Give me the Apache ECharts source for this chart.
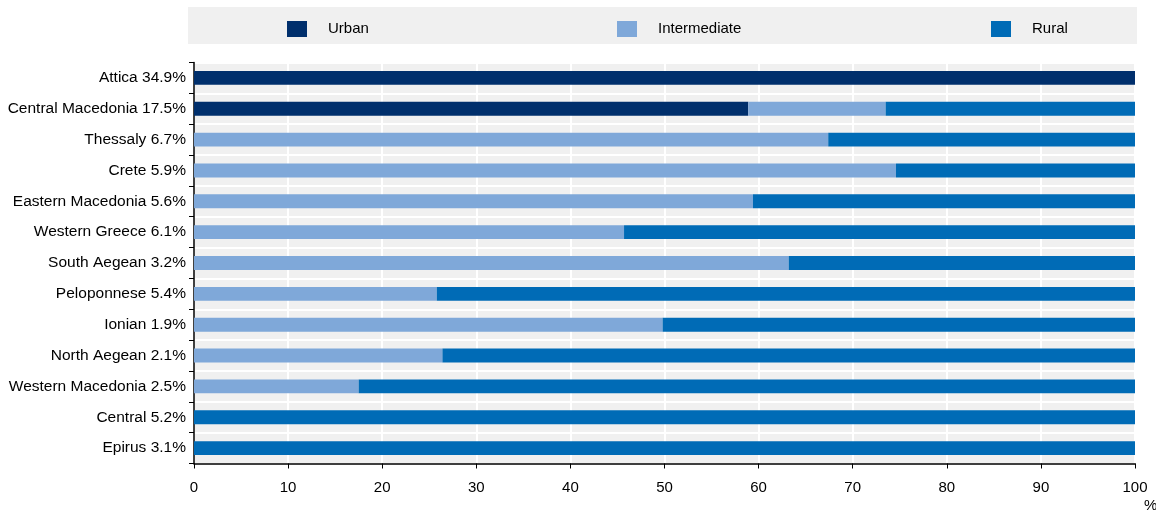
<!DOCTYPE html>
<html>
<head>
<meta charset="utf-8">
<script src="https://cdn.jsdelivr.net/npm/echarts@6/dist/echarts.min.js"></script>
<style>
  html, body { margin: 0; padding: 0; background: #fff; }
  #chart { width: 1156px; height: 515px; }
</style>
</head>
<body>
<div id="chart"></div>
<script>
const regions = [
  'Attica 34.9%', 'Central Macedonia 17.5%', 'Thessaly 6.7%', 'Crete 5.9%',
  'Eastern Macedonia 5.6%', 'Western Greece 6.1%', 'South Aegean 3.2%',
  'Peloponnese 5.4%', 'Ionian 1.9%', 'North Aegean 2.1%',
  'Western Macedonia 2.5%', 'Central 5.2%', 'Epirus 3.1%'
]
const urban = [100, 58.9, 0, 0, 0, 0, 0, 0, 0, 0, 0, 0, 0]
const intermediate = [0, 14.6, 67.4, 74.6, 59.4, 45.7, 63.2, 25.8, 49.8, 26.4, 17.5, 0, 0]
const rural = [0, 26.5, 32.6, 25.4, 40.6, 54.3, 36.8, 74.2, 50.2, 73.6, 82.5, 100, 100]

const FONT = "'Liberation Sans Narrow', 'Liberation Sans', Arial, sans-serif"
const COLORS = { Urban: '#002f6c', Intermediate: '#7fa8d9', Rural: '#006bb6' }

function legendItem(name, left) {
  return {
    data: [name],
    left: left,
    top: 16,
    itemWidth: 20,
    itemHeight: 16,
    itemGap: 0,
    icon: 'rect',
    textStyle: { fontFamily: FONT, fontSize: 15, color: '#000', padding: [0, 0, 0, 16] },
    selectedMode: false,
  }
}

function barSeries(name, data) {
  return {
    name: name,
    type: 'bar',
    stack: 'total',
    data: data,
    barWidth: '45%',
    itemStyle: { color: COLORS[name] },
    emphasis: { disabled: true },
  }
}

const chart = echarts.init(document.getElementById('chart'), null, { renderer: 'canvas' })
chart.setOption({
  animation: false,
  backgroundColor: '#fff',
  graphic: [
    { type: 'rect', shape: { x: 188, y: 7, width: 949, height: 37 }, style: { fill: '#f0f0f0' }, z: -10 },
    { type: 'text', left: 1144, top: 498, style: { text: '%', fontFamily: FONT, fontSize: 15, fill: '#000' } },
  ],
  legend: [
    legendItem('Urban', 282),
    legendItem('Intermediate', 612),
    legendItem('Rural', 986),
  ],
  grid: {
    left: 194,
    right: 21,
    top: 62.5,
    bottom: 51.5,
    show: true,
    backgroundColor: '#f0f0f0',
    borderWidth: 0,
  },
  xAxis: {
    type: 'value',
    min: 0,
    max: 100,
    interval: 10,
    axisLine: { show: true, lineStyle: { color: '#000', width: 1.5 } },
    axisTick: { show: true, length: 5, lineStyle: { color: '#000' } },
    axisLabel: { fontFamily: FONT, fontSize: 15, color: '#000', margin: 17 },
    splitLine: { show: true, lineStyle: { color: '#fff', width: 2 } },
  },
  yAxis: {
    type: 'category',
    data: regions,
    inverse: true,
    axisLine: { show: true, lineStyle: { color: '#000', width: 1.5 } },
    axisTick: { show: true, length: 5, lineStyle: { color: '#000' } },
    axisLabel: { fontFamily: FONT, fontSize: 15.5, color: '#000', margin: 8 },
    splitLine: { show: true, lineStyle: { color: '#fff', width: 2 } },
  },
  series: [
    barSeries('Urban', urban),
    barSeries('Intermediate', intermediate),
    barSeries('Rural', rural),
  ],
})
</script>
</body>
</html>
